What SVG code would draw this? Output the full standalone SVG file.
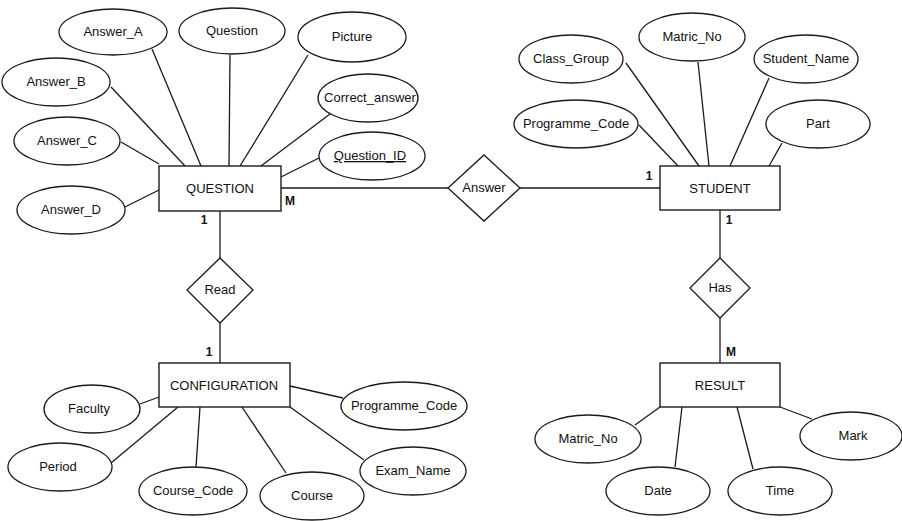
<svg xmlns="http://www.w3.org/2000/svg" width="902" height="521" viewBox="0 0 902 521">
  <style>
    .bg { fill: #ffffff; }
    .ent { fill: #ffffff; stroke: #1a1a1a; stroke-width: 1.4; }
    .attr { fill: #ffffff; stroke: #1a1a1a; stroke-width: 1.3; }
    .rel { fill: #ffffff; stroke: #1a1a1a; stroke-width: 1.3; }
    .conn line { stroke: #1a1a1a; stroke-width: 1.3; }
    text { font-family: "Liberation Sans", Arial, sans-serif; font-size: 13px; fill: #111111; text-anchor: middle; }
    .card { font-weight: bold; font-size: 12px; }
  </style>
  <rect class="bg" x="0" y="0" width="902" height="521"/>

  <!-- connectors -->
  <g id="connectors" class="conn">
    <!-- QUESTION attributes -->
    <line x1="152" y1="49" x2="201" y2="166"/>
    <line x1="230" y1="55" x2="229" y2="166"/>
    <line x1="308" y1="55" x2="240" y2="166"/>
    <line x1="111" y1="87" x2="185" y2="166"/>
    <line x1="330" y1="114" x2="261" y2="166"/>
    <line x1="121" y1="142" x2="159" y2="164"/>
    <line x1="319" y1="158" x2="281" y2="177"/>
    <line x1="125" y1="207" x2="159" y2="190"/>
    <!-- STUDENT attributes -->
    <line x1="626" y1="63" x2="699" y2="166"/>
    <line x1="698" y1="62" x2="709" y2="166"/>
    <line x1="769" y1="78" x2="730" y2="166"/>
    <line x1="639" y1="125" x2="678" y2="166"/>
    <line x1="782" y1="143" x2="769" y2="166"/>
    <!-- CONFIGURATION attributes -->
    <line x1="140" y1="404" x2="159" y2="397"/>
    <line x1="111" y1="463" x2="178" y2="407"/>
    <line x1="196" y1="467" x2="200" y2="407"/>
    <line x1="286" y1="473" x2="242" y2="407"/>
    <line x1="364" y1="460" x2="290" y2="407"/>
    <line x1="343" y1="398" x2="290" y2="386"/>
    <!-- RESULT attributes -->
    <line x1="635" y1="425" x2="660" y2="407"/>
    <line x1="675" y1="467" x2="682" y2="407"/>
    <line x1="753" y1="469" x2="737" y2="407"/>
    <line x1="812" y1="419" x2="780" y2="407"/>
    <!-- relationships -->
    <line x1="281" y1="188" x2="448" y2="188"/>
    <line x1="520" y1="188" x2="660" y2="188"/>
    <line x1="220" y1="211" x2="220" y2="258"/>
    <line x1="220" y1="323" x2="220" y2="363"/>
    <line x1="720" y1="210" x2="720" y2="258"/>
    <line x1="720" y1="318" x2="720" y2="363"/>
  </g>

  <!-- cardinalities -->
  <g id="cardinalities">
    <text class="card" x="290" y="205">M</text>
    <text class="card" x="204" y="224">1</text>
    <text class="card" x="649" y="180">1</text>
    <text class="card" x="729" y="224">1</text>
    <text class="card" x="209" y="356">1</text>
    <text class="card" x="731" y="356">M</text>
  </g>

  <!-- entities -->
  <g id="question">
    <rect class="ent" x="159" y="166" width="122" height="45"/>
    <text x="220" y="193">QUESTION</text>
  </g>
  <g id="student">
    <rect class="ent" x="660" y="166" width="120" height="44"/>
    <text x="720" y="193">STUDENT</text>
  </g>
  <g id="configuration">
    <rect class="ent" x="159" y="363" width="131" height="44"/>
    <text x="224" y="390">CONFIGURATION</text>
  </g>
  <g id="result">
    <rect class="ent" x="660" y="363" width="120" height="44"/>
    <text x="720" y="390">RESULT</text>
  </g>

  <!-- relationships -->
  <g id="rel-answer">
    <polygon class="rel" points="484,155 520,188 484,221 448,188"/>
    <text x="484" y="192">Answer</text>
  </g>
  <g id="rel-read">
    <polygon class="rel" points="220,258 253,290 220,323 187,290"/>
    <text x="220" y="294">Read</text>
  </g>
  <g id="rel-has">
    <polygon class="rel" points="720,258 750,288 720,318 690,288"/>
    <text x="720" y="292">Has</text>
  </g>

  <!-- QUESTION attributes -->
  <g id="q-answer-a">
    <ellipse class="attr" cx="113" cy="32" rx="54" ry="23"/>
    <text x="113" y="36">Answer_A</text>
  </g>
  <g id="q-question">
    <ellipse class="attr" cx="232" cy="31" rx="53" ry="23"/>
    <text x="232" y="35">Question</text>
  </g>
  <g id="q-picture">
    <ellipse class="attr" cx="352" cy="37" rx="54" ry="25"/>
    <text x="352" y="41">Picture</text>
  </g>
  <g id="q-answer-b">
    <ellipse class="attr" cx="56" cy="82" rx="54" ry="24"/>
    <text x="56" y="86">Answer_B</text>
  </g>
  <g id="q-correct-answer">
    <ellipse class="attr" cx="368" cy="98" rx="50" ry="24"/>
    <text x="370" y="102">Correct_answer</text>
  </g>
  <g id="q-answer-c">
    <ellipse class="attr" cx="67" cy="141" rx="53" ry="24"/>
    <text x="67" y="145">Answer_C</text>
  </g>
  <g id="q-question-id">
    <ellipse class="attr" cx="372" cy="156" rx="53" ry="24"/>
    <text x="370" y="160" text-decoration="underline">Question_ID</text>
  </g>
  <g id="q-answer-d">
    <ellipse class="attr" cx="71" cy="210" rx="54" ry="24"/>
    <text x="71" y="214">Answer_D</text>
  </g>

  <!-- STUDENT attributes -->
  <g id="s-class-group">
    <ellipse class="attr" cx="571" cy="59" rx="52" ry="24"/>
    <text x="571" y="63">Class_Group</text>
  </g>
  <g id="s-matric-no">
    <ellipse class="attr" cx="692" cy="37" rx="53" ry="24"/>
    <text x="692" y="41">Matric_No</text>
  </g>
  <g id="s-student-name">
    <ellipse class="attr" cx="806" cy="59" rx="52" ry="24"/>
    <text x="806" y="63">Student_Name</text>
  </g>
  <g id="s-programme-code">
    <ellipse class="attr" cx="576" cy="124" rx="62" ry="24"/>
    <text x="576" y="128">Programme_Code</text>
  </g>
  <g id="s-part">
    <ellipse class="attr" cx="818" cy="124" rx="52" ry="24"/>
    <text x="818" y="128">Part</text>
  </g>

  <!-- CONFIGURATION attributes -->
  <g id="c-faculty">
    <ellipse class="attr" cx="92" cy="409" rx="48" ry="24"/>
    <text x="89" y="413">Faculty</text>
  </g>
  <g id="c-period">
    <ellipse class="attr" cx="60" cy="467" rx="52" ry="24"/>
    <text x="58" y="471">Period</text>
  </g>
  <g id="c-course-code">
    <ellipse class="attr" cx="193" cy="491" rx="54" ry="24"/>
    <text x="193" y="495">Course_Code</text>
  </g>
  <g id="c-course">
    <ellipse class="attr" cx="312" cy="496" rx="52" ry="24"/>
    <text x="312" y="500">Course</text>
  </g>
  <g id="c-exam-name">
    <ellipse class="attr" cx="413" cy="471" rx="53" ry="24"/>
    <text x="413" y="475">Exam_Name</text>
  </g>
  <g id="c-programme-code">
    <ellipse class="attr" cx="404" cy="406" rx="63" ry="24"/>
    <text x="404" y="410">Programme_Code</text>
  </g>

  <!-- RESULT attributes -->
  <g id="r-matric-no">
    <ellipse class="attr" cx="588" cy="439" rx="53" ry="24"/>
    <text x="588" y="443">Matric_No</text>
  </g>
  <g id="r-date">
    <ellipse class="attr" cx="658" cy="491" rx="52" ry="24"/>
    <text x="658" y="495">Date</text>
  </g>
  <g id="r-time">
    <ellipse class="attr" cx="780" cy="491" rx="52" ry="24"/>
    <text x="780" y="495">Time</text>
  </g>
  <g id="r-mark">
    <ellipse class="attr" cx="851" cy="436" rx="51" ry="24"/>
    <text x="853" y="440">Mark</text>
  </g>
</svg>
